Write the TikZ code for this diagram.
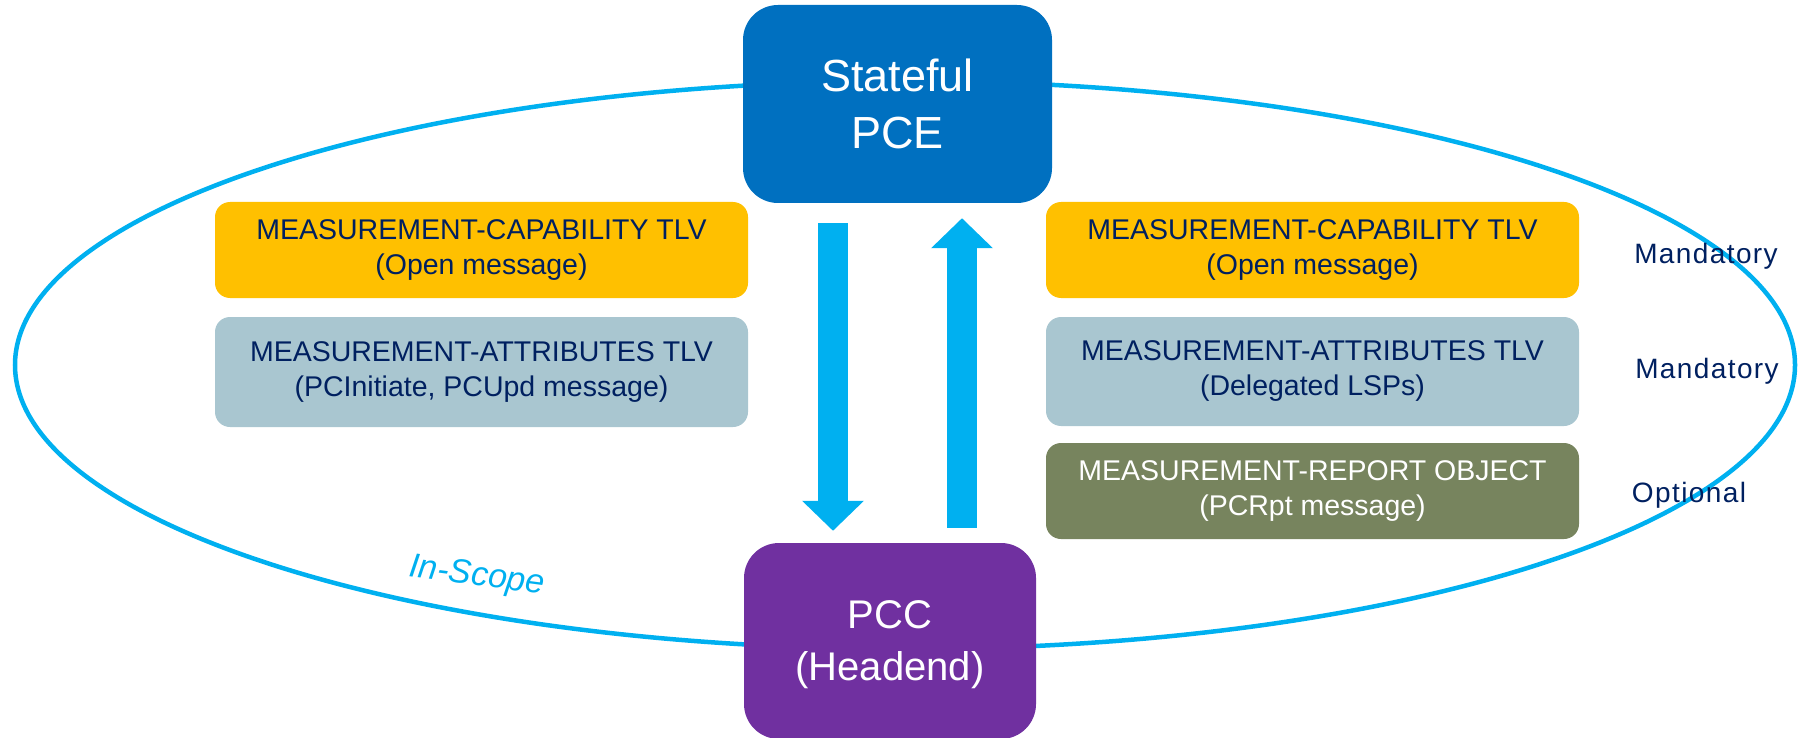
\documentclass[tikz,border=0pt]{standalone}
\usepackage{fontspec}
\setmainfont{Liberation Sans}
\usetikzlibrary{arrows.meta}

\definecolor{scopeblue}{HTML}{00B0F0}
\definecolor{pceblue}{HTML}{0070C0}
\definecolor{pccpurple}{HTML}{7030A0}
\definecolor{capyellow}{HTML}{FFC000}
\definecolor{attrgrey}{HTML}{A9C6D0}
\definecolor{rptgreen}{HTML}{77845E}
\definecolor{navy}{HTML}{002060}

\begin{document}
\begin{tikzpicture}[x=1pt, y=-1pt,
    entity/.style={rounded corners=35pt, text=white, align=center, inner sep=0pt},
    tlvbox/.style={rounded corners=15pt, minimum width=533pt, text=navy, align=center,
      inner sep=0pt, font=\fontsize{28.5}{35}\selectfont},
    reqlabel/.style={text=navy, anchor=base, inner sep=0pt,
      font=\fontsize{28}{34}\selectfont\addfontfeature{LetterSpace=5}},
    flow/.style={scopeblue, line width=30pt, -{Triangle[width=60pt, length=30pt]}}]
    \useasboundingbox (0,0) rectangle (1801,738);

    % スコープ
    \draw[scopeblue, line width=4.5pt] (905,365) ellipse [x radius=890pt, y radius=284pt];
    \node[text=scopeblue, rotate=-7.5, font=\fontsize{34}{40}\selectfont\itshape] (inscope) at (477,577) {In-Scope};

    % PCE と PCC
    \node[entity, fill=pceblue, minimum width=309pt, minimum height=198pt,
      font=\fontsize{45}{57}\selectfont] (pce) at (897.5,104) {Stateful\\PCE};
    \node[entity, fill=pccpurple, minimum width=292pt, minimum height=196pt, text depth=0pt,
      font=\fontsize{40}{52}\selectfont] (pcc) at (890,641) {PCC\\(Headend)};

    % 左側
    \node[tlvbox, fill=capyellow, minimum height=96pt] (capL) at (481.5,250) {MEASUREMENT-CAPABILITY TLV\\(Open message)};
    \node[tlvbox, fill=attrgrey, minimum height=110pt] (attrL) at (481.5,372) {MEASUREMENT-ATTRIBUTES TLV\\(PCInitiate, PCUpd message)};

    % 右側
    \node[tlvbox, fill=capyellow, minimum height=96pt] (capR) at (1312.5,250) {MEASUREMENT-CAPABILITY TLV\\(Open message)};
    \node[tlvbox, fill=attrgrey, minimum height=109pt] (attrR) at (1312.5,371.5) {MEASUREMENT-ATTRIBUTES TLV\\(Delegated LSPs)};
    \node[tlvbox, fill=rptgreen, minimum height=96pt, text=white] (report) at (1312.5,491) {MEASUREMENT-REPORT OBJECT\\(PCRpt message)};

    \node[reqlabel] (mand1) at (1706,263) {Mandatory};
    \node[reqlabel] (mand2) at (1707,378) {Mandatory};
    \node[reqlabel] (opt) at (1689,502) {Optional};

    % 矢印
    \draw[flow] ([xshift=-64.5pt,yshift=-20pt]pce.south) -- ([xshift=-57pt,yshift=12pt]pcc.north);
    \draw[flow] ([xshift=72pt,yshift=15pt]pcc.north) -- ([xshift=64.5pt,yshift=-15pt]pce.south);
\end{tikzpicture}
\end{document}
